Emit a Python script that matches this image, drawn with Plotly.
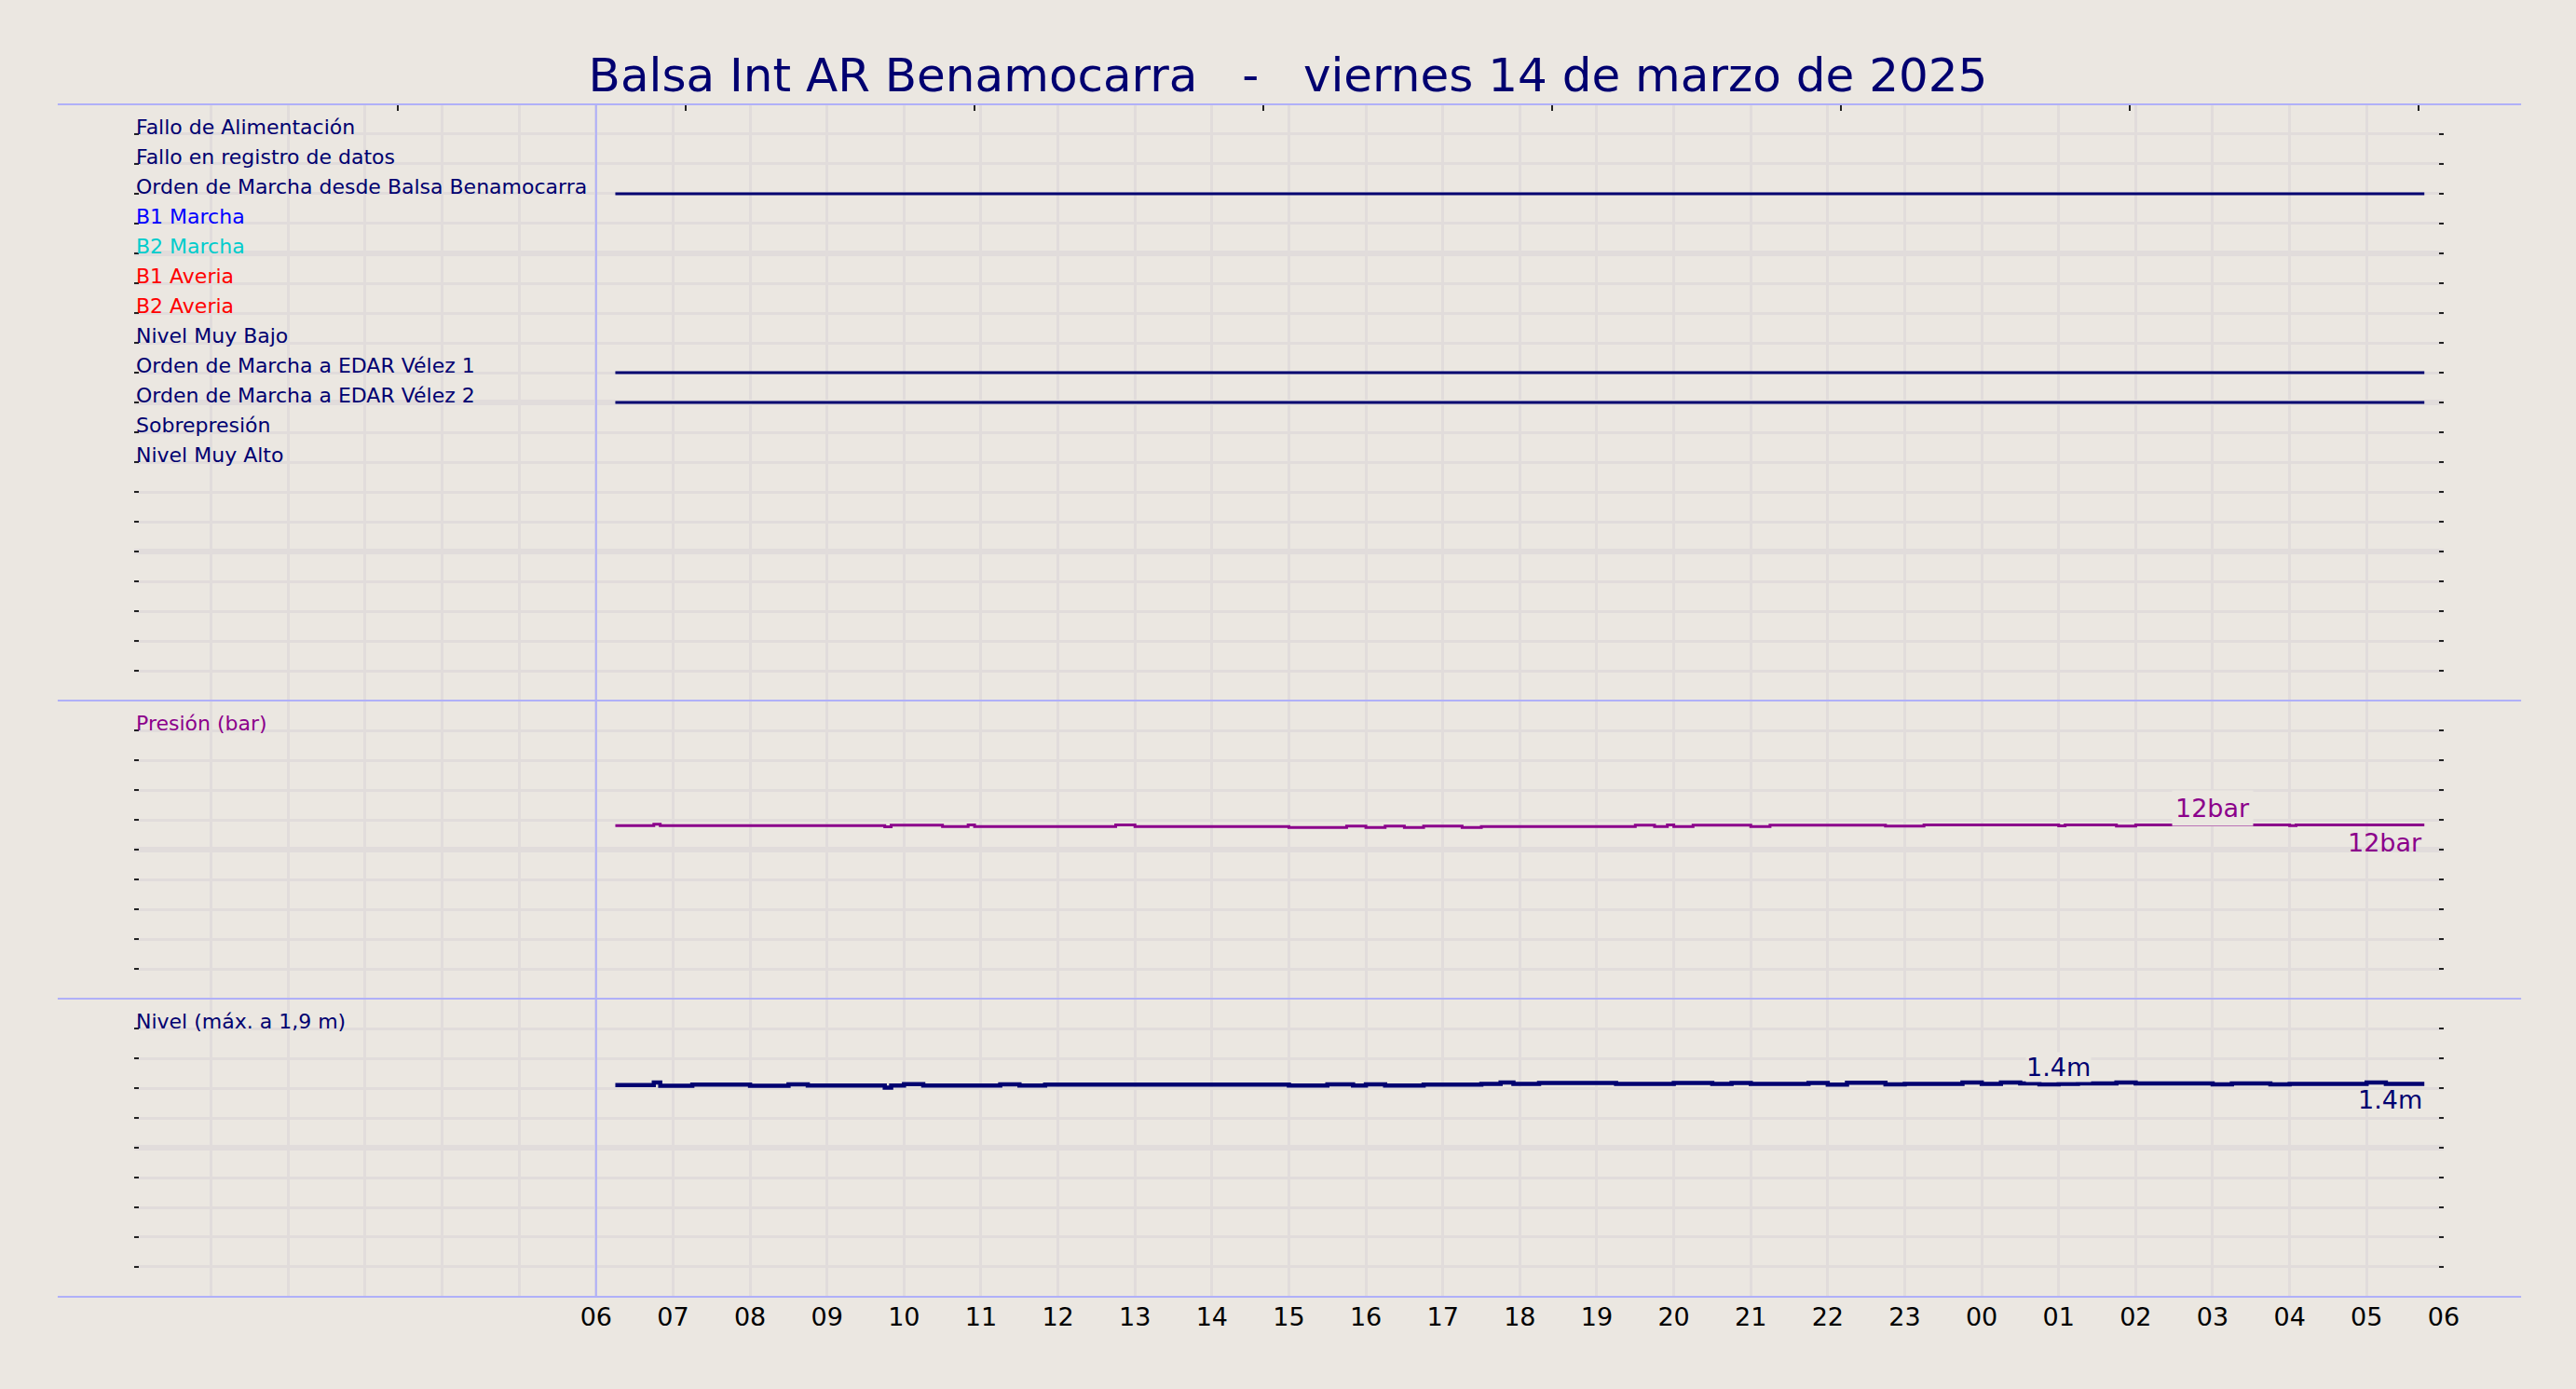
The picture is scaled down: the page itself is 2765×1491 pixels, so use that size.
import pandas as pd
import plotly.graph_objects as go

# --- datos del informe ---
fecha = "2025-03-14"
titulo = "Balsa Int AR Benamocarra   -   viernes 14 de marzo de 2025"

senales = ["Fallo de Alimentación", "Fallo en registro de datos",
           "Orden de Marcha desde Balsa Benamocarra", "B1 Marcha", "B2 Marcha",
           "B1 Averia", "B2 Averia", "Nivel Muy Bajo",
           "Orden de Marcha a EDAR Vélez 1", "Orden de Marcha a EDAR Vélez 2",
           "Sobrepresión", "Nivel Muy Alto"]
colores_senal = ["#000070", "#000070", "#000070", "#0000ff", "#00cccc", "#ff0000",
                 "#ff0000", "#000070", "#000070", "#000070", "#000070", "#000070"]
senal_activa = [0, 0, 1, 0, 0, 0, 0, 0, 1, 1, 0, 0]
inicio_datos = "06:15"
fin_datos = "05:45"

presion_horas = ["06:15", "06:45", "06:50", "09:45", "09:50", "10:30", "10:50", "10:55",
                 "12:45", "13:00", "15:00", "15:45", "16:00", "16:15", "16:30", "16:45",
                 "17:15", "17:30", "19:30", "19:45", "19:55", "20:00", "20:15", "21:00",
                 "21:15", "22:45", "23:15", "01:00", "01:05", "01:45", "02:00", "04:00",
                 "04:05", "05:45"]
presion_bar = [11.62, 11.71, 11.62, 11.53, 11.64, 11.55, 11.66, 11.55,
               11.66, 11.55, 11.49, 11.58, 11.49, 11.58, 11.49, 11.58,
               11.49, 11.55, 11.64, 11.55, 11.66, 11.55, 11.64, 11.55,
               11.65, 11.58, 11.66, 11.60, 11.66, 11.58, 11.66, 11.62,
               11.66, 11.66]

nivel_horas = ["06:15", "06:45", "06:50", "07:15", "08:00", "08:30", "08:45", "09:45",
               "09:50", "10:00", "10:15", "11:15", "11:30", "11:50", "15:00", "15:30",
               "15:50", "16:00", "16:15", "16:45", "17:30", "17:45", "17:55", "18:15",
               "19:15", "20:00", "20:30", "20:45", "21:00", "21:45", "22:00", "22:15",
               "22:45", "23:00", "23:45", "00:00", "00:15", "00:30", "00:45", "01:00",
               "01:15", "01:45", "02:00", "03:00", "03:15", "03:45", "04:00", "05:00",
               "05:15", "05:45"]
nivel_m = [1.421, 1.437, 1.415, 1.423, 1.415, 1.425, 1.417, 1.404,
           1.417, 1.427, 1.417, 1.425, 1.417, 1.423, 1.417, 1.425,
           1.417, 1.425, 1.417, 1.423, 1.429, 1.437, 1.429, 1.435,
           1.429, 1.435, 1.429, 1.435, 1.429, 1.435, 1.423, 1.436,
           1.425, 1.429, 1.437, 1.429, 1.437, 1.431, 1.425, 1.429,
           1.431, 1.437, 1.431, 1.425, 1.431, 1.425, 1.429, 1.437,
           1.429, 1.429]

horas_eje = ["", "", "", "", "", "", "06", "07", "08", "09", "10", "11", "12", "13",
             "14", "15", "16", "17", "18", "19", "20", "21", "22", "23", "00", "01",
             "02", "03", "04", "05", "06"]
marcas_superiores = [0.114, 0.239, 0.364, 0.489, 0.614, 0.739, 0.864, 0.989]

hora_etiqueta_presion = "03:00"
hora_etiqueta_nivel = "01:00"

# --- estilo ---
FONDO = "#ebe7e1"
REJILLA = "#e1dcdb"
AZUL_SEP = "#b0b0f8"
MARINO = "#000070"
MORADO = "#8b008b"
FUENTE = "DejaVu Sans"

DOM_X = [0.0521, 0.9486]
DOM_SUP = [0.4956, 0.9249]
DOM_MED = [0.2810, 0.4956]
DOM_INF = [0.0664, 0.2810]


def a_fecha(hhmm):
    # el informe va de 06:00 a 06:00 del día siguiente
    t = pd.Timestamp(f"{fecha} {hhmm}")
    if t.hour < 6:
        t += pd.Timedelta(days=1)
    return t


eje_inicio = pd.Timestamp(fecha)
eje_fin = eje_inicio + pd.Timedelta(hours=30)
dia_inicio = eje_inicio + pd.Timedelta(hours=6)
horas_ticks = pd.date_range(eje_inicio, periods=len(horas_eje), freq="h")

t_ini = a_fecha(inicio_datos)
t_fin = a_fecha(fin_datos)
presion = pd.Series(presion_bar, index=[a_fecha(h) for h in presion_horas])
nivel = pd.Series(nivel_m, index=[a_fecha(h) for h in nivel_horas])

fig = go.Figure()

# señales digitales
for i, (nombre, activa) in enumerate(zip(senales, senal_activa)):
    fila = 19 - i
    if activa:
        fig.add_trace(go.Scatter(x=[t_ini, t_fin], y=[fila, fila], mode="lines",
                                 line=dict(color=MARINO, width=3), name=nombre,
                                 xaxis="x", yaxis="y"))

fig.add_trace(go.Scatter(x=presion.index, y=presion.values, mode="lines",
                         line=dict(color=MORADO, width=3, shape="hv"),
                         name="Presión", xaxis="x", yaxis="y2"))
fig.add_trace(go.Scatter(x=nivel.index, y=nivel.values, mode="lines",
                         line=dict(color=MARINO, width=4.5, shape="hv"),
                         name="Nivel", xaxis="x", yaxis="y3"))
# eje superior solo con marcas
fig.add_trace(go.Scatter(x=[], y=[], xaxis="x2", yaxis="y", showlegend=False))


def eje_y(dominio, rango, mayor, menor):
    return dict(domain=dominio, range=rango, anchor="x",
                tickmode="array", tickvals=mayor, showticklabels=False,
                ticks="inside", ticklen=5, tickwidth=2, tickcolor="#222222",
                showgrid=True, gridcolor=REJILLA, gridwidth=6,
                zeroline=False, showline=False, mirror="ticks", fixedrange=True,
                minor=dict(tickmode="array", tickvals=menor, showgrid=True,
                           gridcolor=REJILLA, gridwidth=3, ticks="inside",
                           ticklen=5, tickwidth=2, tickcolor="#222222"))


anotaciones = []
for i, (nombre, color) in enumerate(zip(senales, colores_senal)):
    anotaciones.append(dict(x=DOM_X[0], xref="paper", xanchor="left",
                            y=19 - i, yref="y", yanchor="bottom", yshift=-7,
                            text=nombre, showarrow=False,
                            font=dict(size=22, color=color, family=FUENTE)))
anotaciones.append(dict(x=DOM_X[0], xref="paper", xanchor="left", y=18, yref="y2",
                        yanchor="bottom", yshift=-7, text="Presión (bar)",
                        showarrow=False, font=dict(size=22, color=MORADO, family=FUENTE)))
anotaciones.append(dict(x=DOM_X[0], xref="paper", xanchor="left", y=1.8, yref="y3",
                        yanchor="bottom", yshift=-7, text="Nivel (máx. a 1,9 m)",
                        showarrow=False, font=dict(size=22, color=MARINO, family=FUENTE)))

# etiquetas de valor
tp = a_fecha(hora_etiqueta_presion)
tn = a_fecha(hora_etiqueta_nivel)
vp = presion.asof(tp)
vn = nivel.asof(tn)
for x, y, yref, texto, color, dy, pad in [
        (tp, vp, "y2", f"{round(presion.max())}bar", MORADO, -2, 3),
        (tn, vn, "y3", f"{nivel.max():.1f}m", MARINO, 1, 0)]:
    anotaciones.append(dict(x=x, y=y, xref="x", yref=yref, yanchor="bottom", yshift=dy,
                            text=texto, showarrow=False, bgcolor=FONDO, borderpad=pad,
                            font=dict(size=27, color=color, family=FUENTE)))
for y, yref, texto, color, dy in [
        (presion.iloc[-1], "y2", f"{round(presion.iloc[-1])}bar", MORADO, -2),
        (nivel.iloc[-1], "y3", f"{nivel.iloc[-1]:.1f}m", MARINO, 0)]:
    anotaciones.append(dict(x=t_fin, y=y, xref="x", yref=yref, xanchor="right",
                            yanchor="top", yshift=dy, text=texto, showarrow=False,
                            font=dict(size=27, color=color, family=FUENTE)))

# líneas separadoras
formas = []
for yp in [DOM_SUP[1], DOM_SUP[0], DOM_MED[0], DOM_INF[0]]:
    formas.append(dict(type="line", xref="paper", yref="paper", x0=0.0224, x1=0.9787,
                       y0=yp, y1=yp, line=dict(color=AZUL_SEP, width=2)))
formas.append(dict(type="line", xref="x", yref="paper", x0=dia_inicio, x1=dia_inicio,
                   y0=DOM_INF[0], y1=DOM_SUP[1], line=dict(color=AZUL_SEP, width=2)))

fig.update_layout(
    autosize=True,
    # sin autoexpand: la última etiqueta "06" no debe empujar el margen derecho
    margin=dict(l=0, r=0, t=0, b=0, autoexpand=False),
    paper_bgcolor=FONDO, plot_bgcolor=FONDO,
    showlegend=False,
    font=dict(family=FUENTE, color="black"),
    title=dict(text=titulo.replace(" ", "\u00a0"), x=0.5, xanchor="center",
               y=0.9457, yanchor="middle", yref="container",
               font=dict(size=50, color=MARINO, family=FUENTE)),
    xaxis=dict(domain=DOM_X, anchor="y3", range=[eje_inicio, eje_fin],
               tickmode="array", tickvals=horas_ticks, ticktext=horas_eje,
               ticks="", showgrid=True, gridcolor=REJILLA, gridwidth=3,
               zeroline=False, showline=False, fixedrange=True, ticklabelstandoff=3,
               tickfont=dict(size=27, color="black", family=FUENTE)),
    xaxis2=dict(overlaying="x", side="top", anchor="y", range=[0, 1],
                tickmode="array", tickvals=marcas_superiores, showticklabels=False,
                ticks="inside", ticklen=7, tickwidth=2, tickcolor="#222222",
                showgrid=False, zeroline=False, showline=False, fixedrange=True),
    yaxis=eje_y(DOM_SUP, [0, 20], [5, 10, 15], list(range(0, 21))),
    yaxis2=eje_y(DOM_MED, [0, 20], [10], list(range(0, 21, 2))),
    yaxis3=eje_y(DOM_INF, [0, 2], [1.0], [round(i * 0.2, 1) for i in range(11)]),
    annotations=anotaciones,
    shapes=formas,
)

# la figura ocupa toda la ventana: sin margen ni barras de desplazamiento
ajuste = ("var de=document.documentElement, b=document.body;"
          "de.style.height='100%'; de.style.overflow='hidden';"
          "de.style.background='" + FONDO + "';"
          "b.style.height='100%'; b.style.margin='0'; b.style.overflow='hidden';"
          "var gd=document.getElementById('{plot_id}');"
          "gd.parentElement.style.height='100%';"
          "Plotly.Plots.resize(gd);")
fig.write_html("out.html", config={"displayModeBar": False}, post_script=ajuste)
